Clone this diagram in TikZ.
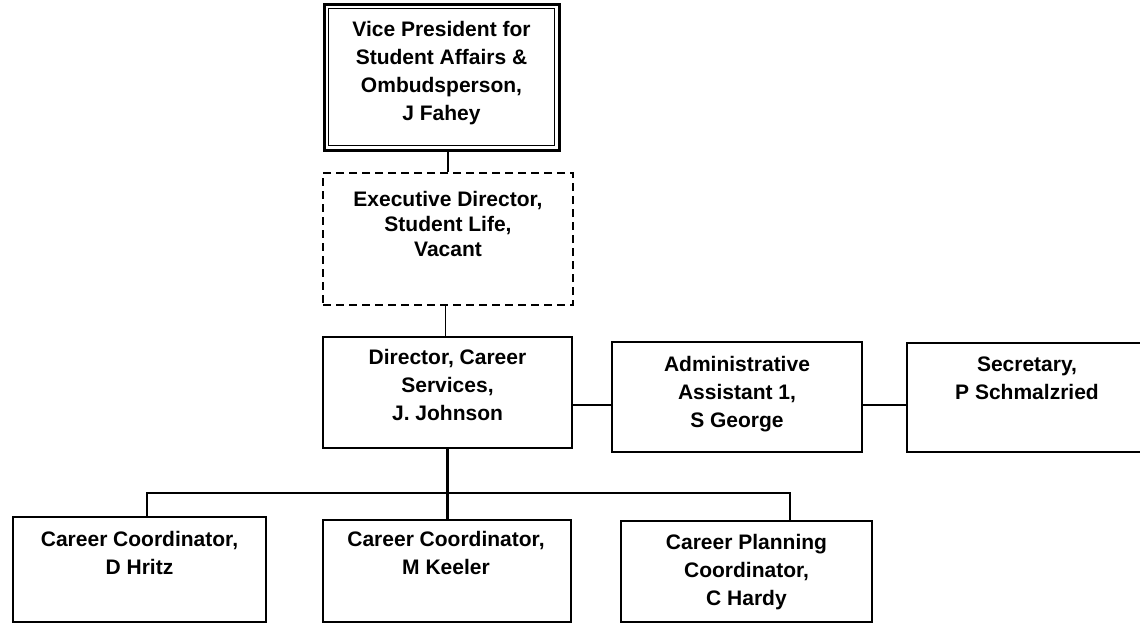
\documentclass[tikz,border=0pt]{standalone}
\usepackage{fontspec}
\setmainfont{Liberation Sans}
\begin{document}
\begin{tikzpicture}[x=1pt,y=1pt,
  box/.style={draw, line width=2.8pt, rectangle, inner sep=0pt},
  dashbox/.style={draw, line width=2.4pt, rectangle, inner sep=0pt, dash pattern=on 8pt off 5pt},
  txt/.style={anchor=north, inner sep=0pt, align=center, font=\bfseries\fontsize{21}{28}\selectfont},
  conn/.style={line width=2.2pt}]
\useasboundingbox (0,0) rectangle (1140,-624);
\fill[white] (0,0) rectangle (1140,-624);
% boxes
\node[box, line width=3pt, minimum width=235, minimum height=146] (vp) at (441.5,-77) {};
\draw[line width=1.4pt] ([shift={(6,-6)}]vp.north west) rectangle ([shift={(-6,6)}]vp.south east);
\node[dashbox, minimum width=250, minimum height=132] (ed) at (448,-239) {};
\node[box, minimum width=249, minimum height=111] (dir) at (447.5,-392.5) {};
\node[box, minimum width=250, minimum height=110] (aa) at (737,-397) {};
\node[box, minimum width=240, minimum height=109] (sec) at (1027,-397.5) {};
\node[box, minimum width=253, minimum height=105] (b1) at (139.5,-569.5) {};
\node[box, minimum width=248, minimum height=102] (b2) at (447,-571) {};
\node[box, minimum width=251, minimum height=101] (b3) at (746.5,-571.5) {};
% texts
\node[txt] (tvp) at (441.5,-21.5) {Vice President for\\Student Affairs \&\\Ombudsperson,\\J Fahey};
\node[txt, font=\bfseries\fontsize{21}{25}\selectfont] (ted) at (448,-191.5) {Executive Director,\\Student Life,\\Vacant};
\node[txt] (tdir) at (447.5,-349.5) {Director, Career\\Services,\\J. Johnson};
\node[txt] (taa) at (737,-356.5) {Administrative\\Assistant 1,\\S George};
\node[txt] (tsec) at (1027,-356.5) {Secretary,\\P Schmalzried};
\node[txt] (tb1) at (139.5,-531.5) {Career Coordinator,\\D Hritz};
\node[txt] (tb2) at (446,-531.5) {Career Coordinator,\\M Keeler};
\node[txt] (tb3) at (746.5,-534.5) {Career Planning\\Coordinator,\\C Hardy};
% connectors
\coordinate (busL) at (147,-493);
\coordinate (busR) at (790,-493);
\draw[conn] (vp.south -| ed.north) -- (ed.north);
\draw[conn, line width=1pt] (ed.south -| 445,0) -- (dir.north -| 445,0);
\draw[conn] ([yshift=-12.5pt]dir.east) -- ([yshift=-12.5pt]dir.east -| aa.west);
\draw[conn] ([yshift=-8pt]aa.east) -- ([yshift=-8pt]aa.east -| sec.west);
\draw[conn] (dir.south) -- (dir.south |- b2.north);
\draw[conn] (b1.north -| busL) -- (busL) -- (busR) -- (b3.north -| busR);
\end{tikzpicture}
\end{document}
